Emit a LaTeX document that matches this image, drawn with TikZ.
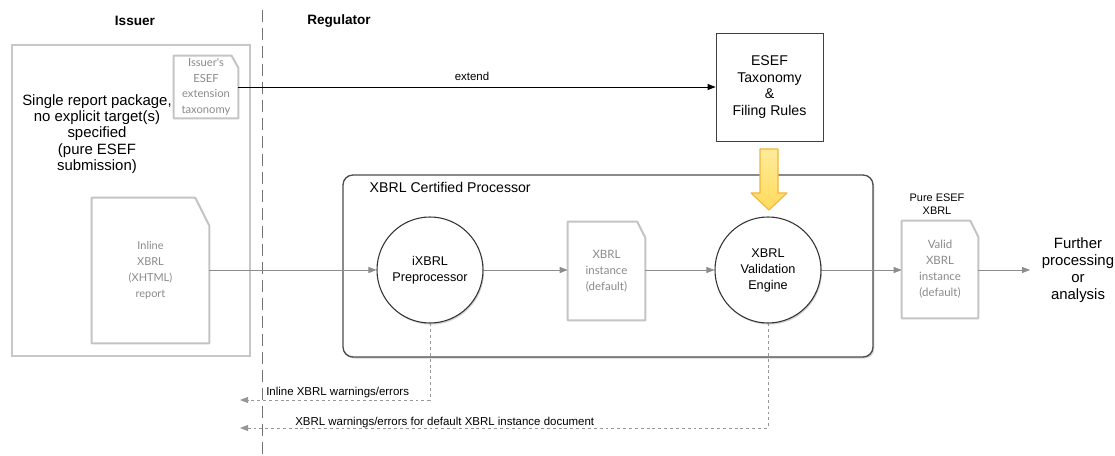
\documentclass[tikz,border=0pt]{standalone}
\usepackage{fontspec}
\setmainfont{Liberation Sans}
\newfontfamily\docfont{Lato}
\usetikzlibrary{arrows.meta,shadows,positioning}
\definecolor{docgray}{HTML}{C4C4C4}
\definecolor{doctext}{HTML}{8A8A8A}
\definecolor{linegray}{HTML}{8C8C8C}
\definecolor{yelfill}{HTML}{FFDA5C}
\definecolor{yeltop}{HTML}{FFEB99}
\definecolor{yeledge}{HTML}{F2B53A}
\tikzset{
  doc/.style={draw=none, inner sep=0pt, align=center, font=\docfont\fontsize{8.6}{12}\selectfont, text=doctext},
  circ/.style={circle, draw=black!80, line width=0.8pt, fill=white, inner sep=0pt, minimum size=79.5pt, align=center, font=\fontsize{9.5}{12}\selectfont, drop shadow={shadow xshift=0.8pt, shadow yshift=-1.2pt, opacity=0.35}},
  flow/.style={draw=linegray, line width=0.6pt, -{Triangle[length=6pt,width=4.5pt]}},
  dotflow/.style={draw=linegray!90, line width=0.7pt, dash pattern=on 2.2pt off 2.2pt, -{Triangle[length=6pt,width=4.5pt]}},
  lbl/.style={font=\fontsize{8.6}{10}\selectfont, inner sep=0pt},
  head/.style={font=\bfseries\fontsize{10.2}{12}\selectfont}
}
\newcommand{\docoutline}[3]{% name, fold x, fold y (pt)
  \draw[docgray, line width=1.5pt, line join=round] (#1.north west) -- ([xshift=-#2]#1.north east) -- ([yshift=-#3]#1.north east) -- (#1.south east) -- (#1.south west) -- cycle;}
\begin{document}
\begin{tikzpicture}[x=0.75pt,y=-0.75pt]
\useasboundingbox (0,0) rectangle (1115,456);
% headings
\node[head] (hissuer) at (135,21) {Issuer};
\node[head] (hreg) at (339,21) {Regulator};
% separator
\draw[black!55, line width=0.6pt, dash pattern=on 9pt off 4.5pt] (262,10) -- (262,456);
% issuer box
\node[draw=black!22, line width=0.8pt, minimum width=178.5pt, minimum height=233.25pt] (issuer) at (131,200.5) {};
\node[align=center, font=\fontsize{11.2}{12.3}\selectfont] (pkg) at (97,134) {Single report package,\\no explicit target(s)\\specified\\(pure ESEF\\submission)};
% issuer's extension taxonomy
\node[doc, minimum width=48pt, minimum height=46.5pt] (ext) at (206,87) {};
\docoutline{ext}{5pt}{9pt}
\node[doc, font=\docfont\fontsize{8.4}{11.6}\selectfont] (exttext) at (206,87) {Issuer's\\ESEF\\extension\\taxonomy};
% inline xbrl doc
\node[doc, minimum width=87.75pt, minimum height=108.75pt] (inl) at (150.5,270.5) {};
\docoutline{inl}{10.5pt}{21pt}
\node[doc, font=\docfont\fontsize{8.2}{12}\selectfont] (inltext) at (150.5,270) {Inline\\XBRL\\(XHTML)\\report};
% ESEF box
\node[draw=black!75, line width=0.6pt, minimum width=80.25pt, minimum height=81pt, align=center, font=\fontsize{10.6}{12.3}\selectfont] (esef) at (769.5,87) {ESEF\\Taxonomy\\\&\\Filing Rules};
% extend
\draw[black, line width=0.7pt, -{Triangle[length=6pt,width=4.5pt]}] (ext.east |- 0,87) -- (esef.west);
\node[lbl] (extend) at (472,76) {extend};
% processor box
\node[draw=black!70, line width=1pt, rounded corners=7.5pt, minimum width=397.5pt, minimum height=136.5pt, fill=white, drop shadow={shadow xshift=1pt, shadow yshift=-1.2pt, opacity=0.35}] (proc) at (608,266) {};
\node[anchor=west, font=\fontsize{10.6}{12}\selectfont] (proclbl) at (365,187) {XBRL Certified Processor};
% yellow arrow
\draw[yeledge, line width=0.8pt, top color=yeltop, bottom color=yelfill, line join=round] (760,149) -- (778,149) -- (778,193) -- (787,193) -- (769,210) -- (751,193) -- (760,193) -- cycle;
% circles
\node[circ] (pre) at (430,270) {iXBRL\\Preprocessor};
\node[circ] (val) at (768,270) {XBRL\\Validation\\Engine};
% xbrl instance doc
\node[doc, minimum width=57.75pt, minimum height=73.5pt] (inst) at (606.5,271) {XBRL\\instance\\(default)};
\docoutline{inst}{6pt}{12pt}
% valid doc
\node[doc, minimum width=57pt, minimum height=72.75pt] (valid) at (940,269.5) {Valid\\XBRL\\instance\\(default)};
\docoutline{valid}{6pt}{12pt}
\node[align=center, font=\fontsize{8.2}{10}\selectfont, inner sep=0pt] (pure) at (937,204) {Pure ESEF\\XBRL};
% further
\node[align=center, font=\fontsize{11.2}{12.6}\selectfont, inner sep=0pt] (further) at (1078,270) {Further\\processing\\or\\analysis};
\coordinate (fin) at (1030,270);
% flows
\draw[flow] (inl.east |- pre.west) -- (pre.west);
\draw[flow] (pre.east) -- (inst.west |- pre.east);
\draw[flow] (inst.east |- val.west) -- (val.west);
\draw[flow] (val.east) -- (valid.west |- val.east);
\draw[flow] (valid.east |- fin) -- (fin);
% dotted error flows
\coordinate (e1) at (240,400);
\coordinate (e2) at (240,428);
\draw[dotflow] (pre.south) -- (pre.south |- e1) -- (e1);
\draw[dotflow] (val.south) -- (val.south |- e2) -- (e2);
\node[lbl, anchor=west] (err1) at (266,393) {Inline XBRL warnings/errors};
\node[lbl, anchor=west] (err2) at (295,423) {XBRL warnings/errors for default XBRL instance document};
\end{tikzpicture}
\end{document}
